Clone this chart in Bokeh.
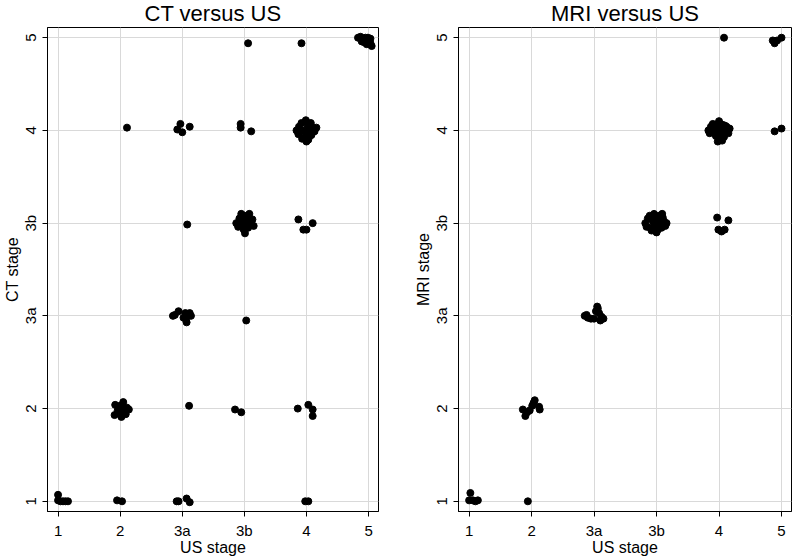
from bokeh.plotting import figure
from bokeh.layouts import row
from bokeh.models import FixedTicker, Range1d
from bokeh.embed import file_html
from bokeh.resources import INLINE

stage_labels = ["1", "2", "3a", "3b", "4", "5"]

# CT versus US (jittered positions; 1..6 correspond to stage_labels)
ct_us = [4.06, 4.92, 5.83, 5.87, 5.91, 5.95, 5.99, 6.03, 5.89, 5.93, 5.98, 6.03, 6.05, 5.97,
         2.11, 2.97, 2.92, 3.00, 3.12, 3.94, 3.94, 4.11,
         4.84, 4.87, 4.88, 4.92, 4.95, 4.97, 4.99, 5.00, 5.02, 5.03, 5.05, 5.07, 5.08, 5.10, 5.13, 5.16, 4.93, 5.00, 4.90, 5.05,
         3.08, 3.87, 3.90, 3.92, 3.95, 3.97, 3.99, 4.00, 4.02, 4.04, 4.06, 4.08, 4.10, 4.13, 4.15, 4.01, 3.94,
         4.87, 5.10, 4.95, 5.00,
         2.85, 2.88, 2.94, 3.02, 3.05, 3.06, 3.07, 3.10, 3.14, 3.12, 4.03,
         1.92, 1.91, 1.96, 1.98, 2.00, 2.02, 2.04, 2.05, 2.07, 2.09, 2.11, 2.14, 2.00,
         3.11, 3.85, 3.95, 4.86, 5.03, 5.10, 5.10,
         1.00, 1.00, 1.04, 1.08, 1.12, 1.16, 1.95, 2.03, 2.91, 2.94, 3.07, 3.12, 4.98, 5.03]
ct_stage = [5.94, 5.94, 6.00, 6.01, 5.99, 6.00, 6.00, 5.99, 5.96, 5.95, 5.96, 5.94, 5.91, 5.93,
            5.03, 5.07, 5.01, 4.98, 5.04, 5.07, 5.03, 4.99,
            5.00, 4.96, 5.04, 5.08, 5.00, 4.93, 5.11, 4.97, 5.05, 4.90, 5.01, 5.08, 4.95, 5.03, 4.99, 5.03, 4.91, 4.88, 5.00, 4.94,
            3.985, 4.00, 3.96, 4.05, 4.10, 4.01, 3.93, 4.08, 3.98, 4.03, 3.95, 4.10, 4.00, 4.04, 3.97, 3.89, 3.99,
            4.04, 4.00, 3.93, 3.93,
            3.00, 3.01, 3.05, 2.98, 3.03, 2.96, 2.93, 3.01, 3.00, 3.03, 2.95,
            2.04, 1.93, 1.98, 2.02, 1.95, 1.91, 2.00, 2.07, 1.96, 1.94, 2.01, 1.99, 2.03,
            2.03, 1.99, 1.96, 2.00, 2.04, 1.99, 1.92,
            1.07, 1.01, 1.00, 1.00, 1.00, 1.00, 1.01, 1.00, 1.00, 1.00, 1.03, 0.99, 1.00, 1.00]

# MRI versus US
mri_us = [5.08, 5.86, 5.89, 5.93, 6.00,
          4.83, 4.85, 4.87, 4.90, 4.92, 4.95, 4.97, 5.00, 5.00, 5.02, 5.04, 5.06, 5.08, 5.10, 5.12, 5.15, 5.17, 4.98, 5.05, 4.93, 5.10,
          5.89, 6.00,
          3.82, 3.84, 3.86, 3.89, 3.90, 3.92, 3.94, 3.96, 3.98, 4.00, 4.02, 4.04, 4.06, 4.08, 4.10, 4.12, 4.14, 4.16, 4.00, 3.97, 4.09,
          4.97, 5.15, 4.99, 5.04, 5.09,
          2.85, 2.88, 2.90, 2.95, 3.00, 3.03, 3.06, 3.05, 3.08, 3.10, 3.15, 3.12,
          1.86, 1.90, 1.93, 1.97, 2.01, 2.05, 2.12, 2.13, 2.03,
          1.02, 1.00, 1.06, 1.14, 1.10, 1.94]
mri_stage = [6.00, 5.97, 5.94, 5.97, 6.00,
             5.00, 4.97, 5.04, 5.07, 4.99, 4.94, 5.03, 5.10, 4.96, 4.90, 5.02, 5.06, 4.93, 4.99, 5.04, 4.97, 5.02, 4.88, 4.89, 5.06, 5.05,
             4.99, 5.02,
             4.00, 3.96, 4.05, 4.08, 3.95, 3.92, 4.02, 4.10, 3.97, 4.04, 3.93, 4.08, 4.00, 3.95, 4.06, 4.02, 3.97, 4.00, 3.90, 4.06, 4.10,
             4.06, 4.03, 3.93, 3.91, 3.93,
             3.00, 3.01, 2.98, 2.97, 2.97, 3.05, 3.08, 3.10, 3.03, 2.95, 2.97, 2.99,
             1.99, 1.92, 1.96, 1.98, 2.03, 2.09, 2.02, 1.99, 2.06,
             1.09, 1.01, 1.01, 1.01, 1.00, 1.00]

FONT = "Liberation Sans"
ticks = list(range(1, len(stage_labels) + 1))
overrides = {t: lab for t, lab in zip(ticks, stage_labels)}
X0, X1 = 0.83, 6.16
Y0, Y1 = 0.89, 6.11


def make_panel(title, xs, ys, ylabel, width, border_left, border_right):
    p = figure(width=width, height=559, output_backend="svg", toolbar_location=None,
               title=title, x_range=Range1d(X0, X1), y_range=Range1d(Y0, Y1),
               min_border_left=border_left, min_border_right=border_right,
               min_border_top=27, min_border_bottom=48)
    p.title.text_font = FONT
    p.title.text_font_size = "22px"
    p.title.text_font_style = "normal"
    p.title.align = "center"
    p.title.vertical_align = "top"
    p.title.text_color = "#000000"
    p.title.standoff = 0
    p.outline_line_color = "#000000"
    p.outline_line_width = 1
    p.outline_line_alpha = 1
    for ax in (p.xaxis[0], p.yaxis[0]):
        ax.ticker = FixedTicker(ticks=ticks)
        ax.major_label_overrides = overrides
        ax.minor_tick_line_color = None
        ax.major_tick_out = 5
        ax.major_tick_in = 0
        ax.axis_line_color = "#000000"
        ax.major_tick_line_color = "#000000"
        ax.major_label_text_font = FONT
        ax.major_label_text_font_size = "15px"
        ax.major_label_text_color = "#000000"
        ax.axis_label_text_font = FONT
        ax.axis_label_text_font_size = "16px"
        ax.axis_label_text_font_style = "normal"
        ax.axis_label_text_color = "#000000"
    p.xaxis.major_label_standoff = 5
    p.xaxis.axis_label_standoff = -3
    p.yaxis.major_label_standoff = 3
    p.yaxis.axis_label_standoff = -1
    p.xaxis.axis_label = "US stage"
    p.yaxis.axis_label = ylabel
    p.yaxis.major_label_orientation = "vertical"
    p.grid.grid_line_color = "#d9d9d9"
    p.grid.grid_line_width = 1
    p.scatter(xs, ys, size=7, marker="circle", fill_color="black", line_color="black")
    return p


p1 = make_panel("CT versus US", ct_us, ct_stage, "CT stage", 400, 45, 22)
p2 = make_panel("MRI versus US", mri_us, mri_stage, "MRI stage", 395, 58, 4)

layout = row(p1, p2, spacing=0)
open("out.html", "w").write(file_html(layout, INLINE))
